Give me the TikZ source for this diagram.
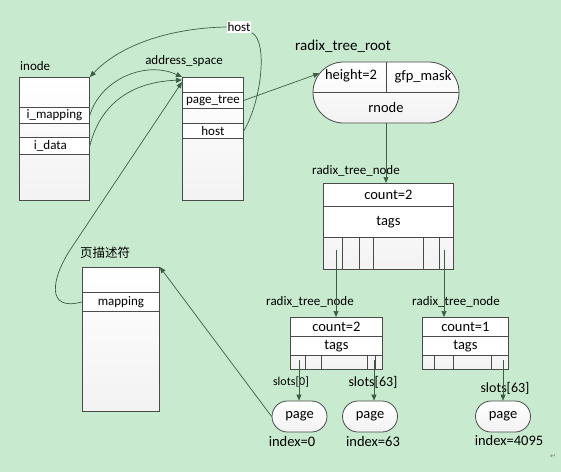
\documentclass[tikz,border=0pt]{standalone}
\usepackage{fontspec}
\setmainfont{Carlito}
\newfontfamily\cjk{Noto Sans CJK SC}
\newfontfamily\dejavu{DejaVu Sans}
\usetikzlibrary{arrows.meta,shapes.misc}
\definecolor{bg}{HTML}{C8EBCF}
\definecolor{arrc}{HTML}{3B5E45}
\definecolor{boxc}{HTML}{4A4A4A}
\begin{document}
\begin{tikzpicture}[x=1pt,y=-1pt,
 font=\fontsize{13}{15}\selectfont,
 big/.style={font=\fontsize{14.5}{16}\selectfont},
 box/.style={draw=boxc, line width=0.8pt, top color=white, bottom color=gray!10, anchor=north west, inner sep=0pt},
 row/.style={draw=boxc, line width=0.8pt, fill=white, anchor=north west, inner sep=0pt},
 lbl/.style={inner sep=1pt},
 arr/.style={draw=arrc, line width=0.7pt, -{Triangle[length=6pt,width=5pt]}},
 con/.style={draw=arrc, line width=0.7pt},
 sep/.style={draw=boxc, line width=0.8pt},
 pill/.style={draw=boxc, line width=0.8pt, rounded rectangle, top color=white, bottom color=gray!10, minimum width=55pt, minimum height=31pt, inner sep=0pt}
]
\fill[bg] (0,0) rectangle (561,472);
\useasboundingbox (0,0) rectangle (561,472);

% inode
\node[lbl, anchor=west] (inodel) at (19,66) {inode};
\node[box, minimum width=70pt, minimum height=123pt] (inode) at (19,77) {};
\node[row, minimum width=70pt, minimum height=16pt] (imap) at (19,107) {i\_mapping};
\node[row, minimum width=70pt, minimum height=17pt] (idata) at (19,137) {\hspace*{-8pt}i\_data};

% address_space
\node[lbl] (aspl) at (184,61) {address\_space};
\node[box, minimum width=61pt, minimum height=123pt] (asp) at (182,77) {};
\node[row, minimum width=61pt, minimum height=16pt] (aspt) at (182,92) {page\_tree};
\node[row, minimum width=61pt, minimum height=15pt] (asph) at (182,123) {host};

% host label
\node[lbl, fill=white] (hostl) at (239,27) {host};

% radix_tree_root
\node[lbl, anchor=west, font=\fontsize{15}{17}\selectfont] (rootl) at (294,46) {radix\_tree\_root};
\node[pill, minimum width=146pt, minimum height=61pt] (root) at (386,92.5) {};
\draw[sep] (root.west) -- (root.east);
\draw[sep] (root.north) -- (root.center);
\node[big] (rh) at (351,76) {height=2};
\node[big] (rg) at (423,77) {gfp\_mask};
\node[big] (rr) at (386,108) {rnode};

% radix_tree_node top
\node[lbl] (rn1l) at (356,171) {radix\_tree\_node};
\node[box, minimum width=130pt, minimum height=86pt] (rn1) at (323,183) {};
\node[row, minimum width=130pt, minimum height=23pt, big] (rn1c) at (323,183) {count=2};
\node[row, minimum width=130pt, minimum height=31pt, big] (rn1t) at (323,206) {tags};
\foreach \x in {342,359,373,423,439} \draw[sep] (\x,237) -- (\x,269);

% radix_tree_node bottom left
\node[lbl] (rn2l) at (310,302) {radix\_tree\_node};
\node[box, minimum width=92pt, minimum height=52pt] (rn2) at (290,317) {};
\node[row, minimum width=92pt, minimum height=19pt, big] (rn2c) at (290,317) {count=2};
\node[row, minimum width=92pt, minimum height=19pt, big] (rn2t) at (290,336) {tags};
\foreach \x in {305,321,367,375} \draw[sep] (\x,355) -- (\x,369);

% radix_tree_node bottom right
\node[lbl] (rn3l) at (456,302) {radix\_tree\_node};
\node[box, minimum width=86pt, minimum height=52pt] (rn3) at (422,317) {};
\node[row, minimum width=86pt, minimum height=19pt, big] (rn3c) at (422,317) {count=1};
\node[row, minimum width=86pt, minimum height=19pt, big] (rn3t) at (422,336) {tags};
\foreach \x in {434,453,491} \draw[sep] (\x,355) -- (\x,369);

% pages
\node[pill, big] (p1) at (299.5,416.5) {page};
\node[pill, big] (p2) at (370,416.5) {page};
\node[pill, big] (p3) at (503,416.5) {page};
\node[lbl, font=\fontsize{12}{14}\selectfont] (sl0) at (291,382) {slots[0]};
\node[lbl, font=\fontsize{14}{16}\selectfont] (sl63a) at (373,382) {slots[63]};
\node[lbl, font=\fontsize{14}{16}\selectfont] (sl63b) at (505,388) {slots[63]};
\node[lbl, big] (ix0) at (292,442) {index=0};
\node[lbl, big] (ix63) at (373,442) {index=63};
\node[lbl, big] (ix4095) at (509,441) {index=4095};

% page descriptor
\node[lbl, anchor=west] (descl) at (79,253) {\cjk\fontsize{12.5}{14}\selectfont 页描述符};
\node[box, minimum width=77pt, minimum height=144pt] (desc) at (82,267) {};
\node[row, minimum width=77pt, minimum height=19pt] (mapr) at (82,292) {mapping};

\node[text=gray] (ret) at (553,456) {\dejavu\fontsize{7}{8}\selectfont ↵};

% slot coordinates
\coordinate (s1) at (336,250);
\coordinate (s2) at (444,250);
\coordinate (s3) at (299,360);
\coordinate (s4) at (374,360);
\coordinate (s5) at (503,360);

% connectors
\draw[arr] (root.south) -- (root.south |- rn1.north);
\draw[arr] (s1) -- (s1 |- rn2.north);
\draw[arr] (s2) -- (s2 |- rn3.north);
\draw[arr] (s3) -- (s3 |- p1.north);
\draw[arr] (s4) -- (s4 |- p2.north);
\draw[arr] (s5) -- (s5 |- p3.north);
\draw[arr] (aspt.east) -- (root.164);
\draw[arr] (p1.west) -- (desc.north east);
\draw[arr] (mapr.west) .. controls (45,312) and (52,278) .. (70,250) -- ([yshift=-5pt]asp.north west);
\draw[arr] (imap.east) .. controls (100,80) and (145,60) .. (asp.north west);
\draw[arr] (idata.east) .. controls (100,105) and (130,82) .. ([yshift=-3pt]asp.north west);
\draw[con] (asph.east) .. controls (262,100) and (268,40) .. (hostl.south east);
\draw[arr] (hostl.west) .. controls (170,28) and (120,45) .. (inode.north east);
\end{tikzpicture}
\end{document}
